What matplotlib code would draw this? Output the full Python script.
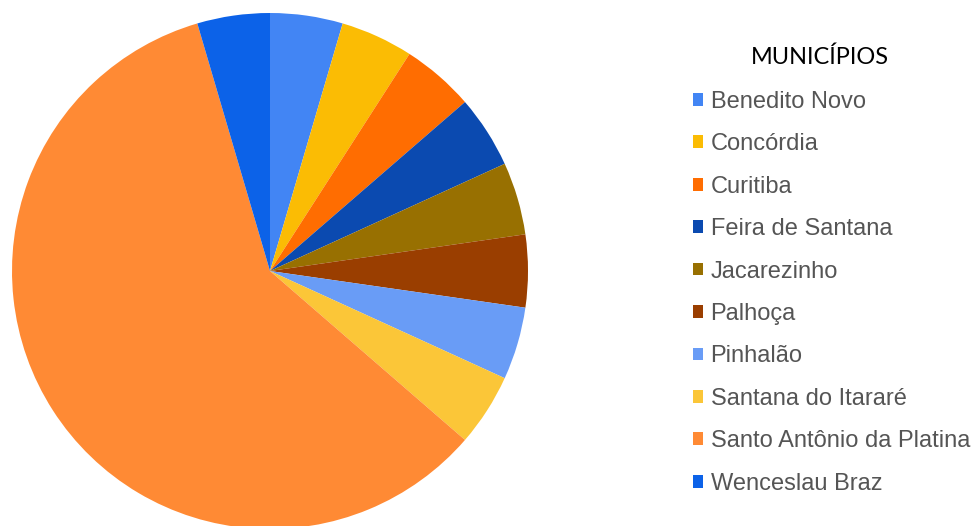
import matplotlib.pyplot as plt

municipios = ['Benedito Novo', 'Concórdia', 'Curitiba', 'Feira de Santana',
              'Jacarezinho', 'Palhoça', 'Pinhalão', 'Santana do Itararé',
              'Santo Antônio da Platina', 'Wenceslau Braz']
valores = [1, 1, 1, 1, 1, 1, 1, 1, 13, 1]
cores = ['#4285F4', '#FBBC04', '#FF6D01', '#0B4AB0', '#987001',
         '#9A3E00', '#699CF6', '#FBC638', '#FF8A34', '#0C62E8']

fig = plt.figure(figsize=(9.76, 5.26), dpi=100)
W, H = 976, 526
r = 258
cx, cy = 270, 271
ax = fig.add_axes([(cx - r) / W, (H - cy - r) / H, 2 * r / W, 2 * r / H])
wedges, _ = ax.pie(valores, colors=cores, startangle=90, counterclock=False,
                   radius=1, wedgeprops={'linewidth': 0})
for w in wedges:
    w.set_clip_on(False)
ax.set_xlim(-1, 1)
ax.set_ylim(-1, 1)
ax.set_aspect('equal')
ax.axis('off')

# titulo da legenda separado (fica um pouco deslocado para a esquerda)
fig.text(820 / W, 1 - 57 / H, 'MUNICÍPIOS', ha='center', va='center',
         fontsize=16.9, family='Lato', color='black')

leg = fig.legend(wedges, municipios, loc='upper left',
                 bbox_to_anchor=(681 / W, 1 - 79 / H), frameon=False,
                 fontsize=17, handlelength=0.45, handleheight=0.45,
                 handletextpad=0.3, labelspacing=0.865, borderpad=0)
for t in leg.get_texts():
    t.set_color('#555555')
    t.set_fontfamily('Liberation Sans')

fig.savefig('out.png', dpi=100)
